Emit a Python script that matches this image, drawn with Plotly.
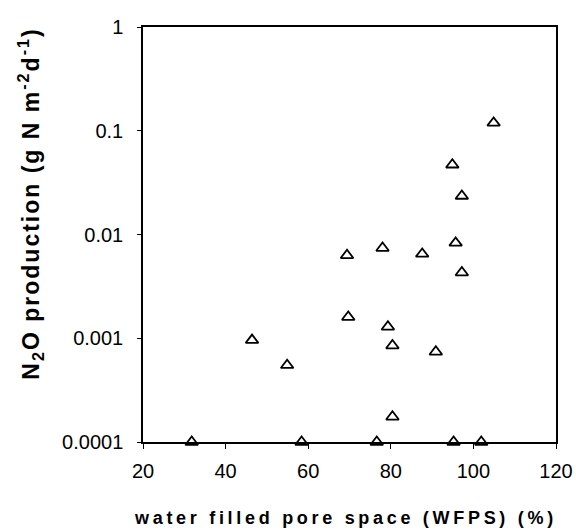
import plotly.graph_objects as go

wfps = [104.9, 94.9, 97.2, 95.7, 69.4, 78.0, 87.6, 97.2, 69.7, 79.3, 80.4, 90.9,
        46.4, 54.9, 80.4, 31.8, 58.4, 76.6, 95.2, 101.9]
n2o = [0.119, 0.047, 0.0235, 0.0083, 0.0063, 0.0074, 0.0065, 0.0043, 0.0016, 0.00129,
       0.00085, 0.00074, 0.00096, 0.00055, 0.000175, 0.0001, 0.0001, 0.0001, 0.0001, 0.0001]

x_ticks = [20, 40, 60, 80, 100, 120]
y_ticks = [0.0001, 0.001, 0.01, 0.1, 1]
y_ticktext = ["0.0001", "0.001", "0.01", "0.1", "1"]

fig = go.Figure()
fig.add_trace(go.Scatter(
    x=wfps, y=n2o, mode="markers",
    marker=dict(symbol="triangle-up", size=11, color="white",
                line=dict(color="black", width=1.8)),
    cliponaxis=False, showlegend=False))

fig.update_layout(
    width=576, height=531,
    margin=dict(l=143, r=20, t=27, b=89, autoexpand=False),
    paper_bgcolor="white", plot_bgcolor="white",
    font=dict(family="Liberation Sans, Arial, sans-serif", color="black", size=20),
)
fig.update_xaxes(
    range=[20, 120], tickvals=x_ticks, ticks="outside", ticklen=5, tickwidth=1,
    tickcolor="black", showline=True, linecolor="black", linewidth=1.5, mirror=True,
    showgrid=False, zeroline=False, tickfont=dict(size=20), ticklabelstandoff=5,
)
fig.update_yaxes(
    type="log", range=[-4, 0], tickvals=y_ticks, ticktext=y_ticktext,
    ticks="outside", ticklen=4, tickwidth=1, tickcolor="black",
    showline=True, linecolor="black", linewidth=1.5, mirror=True,
    showgrid=False, zeroline=False, tickfont=dict(size=20), ticklabelstandoff=10,
)
fig.add_annotation(
    text="<span style='letter-spacing:2px'><b>N<sub>2</sub>O production (g N m<sup>-2</sup>d<sup>-1</sup>)</b></span>",
    xref="paper", yref="paper", x=-0.274, y=0.574, xanchor="center", yanchor="middle",
    textangle=-90, showarrow=False, font=dict(size=23),
)
fig.add_annotation(
    text="<span style='letter-spacing:3.7px'><b>water filled pore space (WFPS) (%)</b></span>",
    xref="paper", yref="paper", x=0.49, y=-0.183, xanchor="center", yanchor="middle",
    showarrow=False, font=dict(size=18),
)
fig.write_html("out.html", config={"displayModeBar": False},
               post_script="document.body.style.margin='0';document.body.style.padding='0';")
